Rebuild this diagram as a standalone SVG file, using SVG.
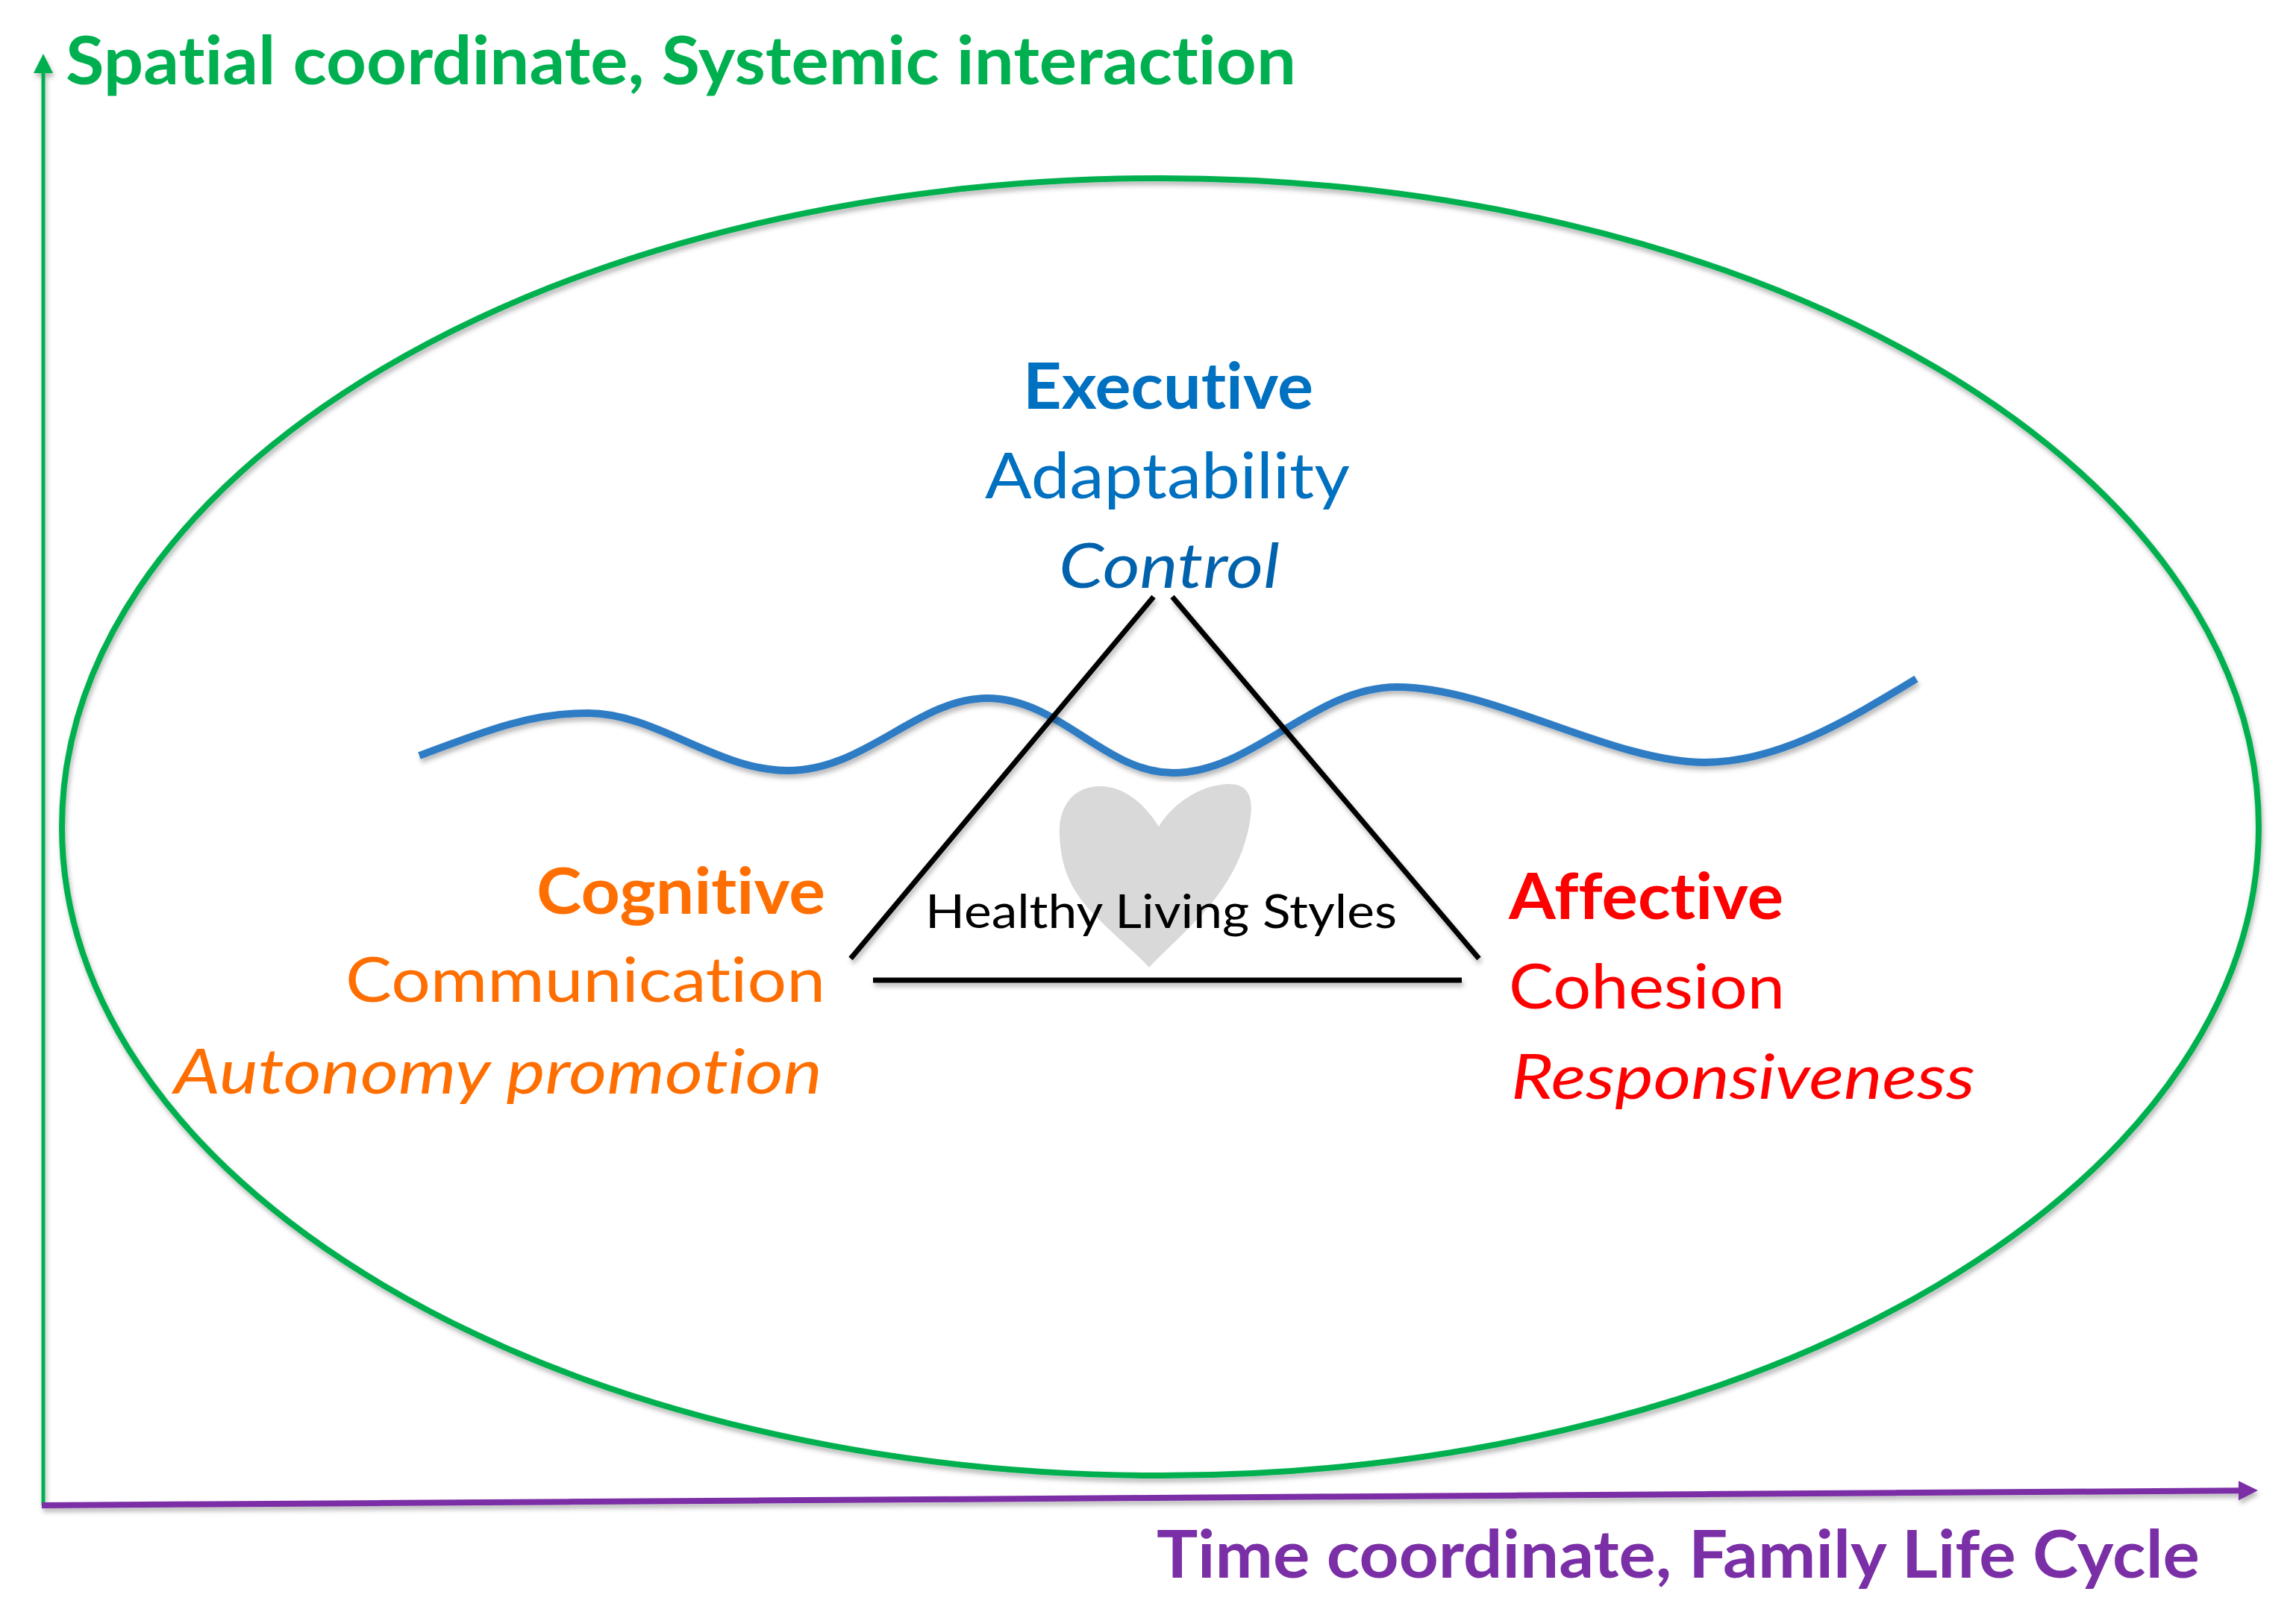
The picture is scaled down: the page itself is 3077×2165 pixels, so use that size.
<svg xmlns="http://www.w3.org/2000/svg" width="3077" height="2165" viewBox="0 0 3077 2165">
<style>
text{font-family:Lato,"Open Sans","Liberation Sans",sans-serif;font-variant-ligatures:none;font-feature-settings:"liga" 0,"clig" 0}
.b{font-weight:bold}
.i{font-style:italic}
.blue{fill:#0070C0}
.dblue{fill:#0062AC}
.orange{fill:#FF6E00}
.red{fill:#FF0000}
.tri{stroke:#000;stroke-width:7;fill:none}
</style>
<defs>
<filter id="sh" x="-5%" y="-5%" width="110%" height="115%">
<feDropShadow dx="2" dy="5" stdDeviation="3" flood-color="#000" flood-opacity="0.28"/>
</filter>
<marker id="ag" markerUnits="userSpaceOnUse" markerWidth="28" markerHeight="28" refX="0" refY="13" orient="auto" viewBox="0 0 28 26">
<path d="M0,0 L26,13 L0,26 z" fill="#00B050"/>
</marker>
<marker id="ap" markerUnits="userSpaceOnUse" markerWidth="28" markerHeight="28" refX="0" refY="13" orient="auto" viewBox="0 0 28 26">
<path d="M0,0 L26,13 L0,26 z" fill="#7B2FA6"/>
</marker>
</defs>
<rect width="3077" height="2165" fill="#fff"/>

<g id="ellipse" filter="url(#sh)">
<ellipse cx="1555" cy="1108.5" rx="1472" ry="869.5" fill="none" stroke="#00B050" stroke-width="8"/>
</g>

<g id="connectors" filter="url(#sh)">
<line x1="58" y1="2018" x2="58" y2="98" stroke="#00B050" stroke-width="5" marker-end="url(#ag)"/>
<line x1="56" y1="2018" x2="3000" y2="1998.2" stroke="#7B2FA6" stroke-width="8" marker-end="url(#ap)"/>
</g>

<g id="wave" filter="url(#sh)">
<path d="M562,1013 C650,980 710,956 788,956 C880,956 960,1033 1056,1033 C1160,1033 1230,936 1323,936 C1420,936 1480,1036 1572,1036 C1680,1036 1760,921 1872,921 C2000,921 2160,1022 2284,1022 C2380,1022 2470,970 2568,910" fill="none" stroke="#2E7BC4" stroke-width="10"/>
</g>

<g id="heart">
<path d="M1553,1108 C1535,1080 1510,1055 1475,1054 C1435,1054 1418,1085 1420,1120 C1422,1170 1440,1200 1470,1230 C1500,1260 1525,1280 1540,1297 C1560,1275 1590,1250 1620,1215 C1650,1180 1670,1140 1676,1095 C1680,1065 1670,1050 1645,1051 C1605,1053 1570,1080 1553,1108 Z" fill="#D9D9D9"/>
</g>

<g id="triangle" filter="url(#sh)">
<line class="tri" x1="1546" y1="800" x2="1140" y2="1285"/>
<line class="tri" x1="1571" y1="800" x2="1982" y2="1285"/>
<line class="tri" x1="1170" y1="1314" x2="1959" y2="1314"/>
</g>

<g id="center-label">
<text x="1240" y="1244" font-size="61" fill="#000" textLength="632" lengthAdjust="spacingAndGlyphs">Healthy Living Styles</text>
</g>

<g id="executive">
<text class="b blue" x="1371" y="548" font-size="86" textLength="389" lengthAdjust="spacingAndGlyphs">Executive</text>
<text class="blue" x="1320" y="668" font-size="86" textLength="489" lengthAdjust="spacingAndGlyphs">Adaptability</text>
<text class="i dblue" x="1419" y="788" font-size="84" textLength="296" lengthAdjust="spacingAndGlyphs">Control</text>
</g>

<g id="cognitive">
<text class="b orange" x="719" y="1225" font-size="86" textLength="387" lengthAdjust="spacingAndGlyphs">Cognitive</text>
<text class="orange" x="463" y="1343" font-size="84" textLength="643" lengthAdjust="spacingAndGlyphs">Communication</text>
<text class="i orange" x="233" y="1466" font-size="84" textLength="869" lengthAdjust="spacingAndGlyphs">Autonomy promotion</text>
</g>

<g id="affective">
<text class="b red" x="2022" y="1232" font-size="86" textLength="368" lengthAdjust="spacingAndGlyphs">Affective</text>
<text class="red" x="2022" y="1352" font-size="84" textLength="370" lengthAdjust="spacingAndGlyphs">Cohesion</text>
<text class="i red" x="2025" y="1473" font-size="84" textLength="622" lengthAdjust="spacingAndGlyphs">Responsiveness</text>
</g>

<g id="axis-y-label">
<text class="b" x="88" y="113" font-size="90" fill="#00B050" textLength="1649" lengthAdjust="spacingAndGlyphs">Spatial coordinate, Systemic interaction</text>
</g>

<g id="axis-x-label">
<text class="b" x="1550" y="2115" font-size="88" fill="#7B2FA6" textLength="1398" lengthAdjust="spacingAndGlyphs">Time coordinate, Family Life Cycle</text>
</g>
</svg>
